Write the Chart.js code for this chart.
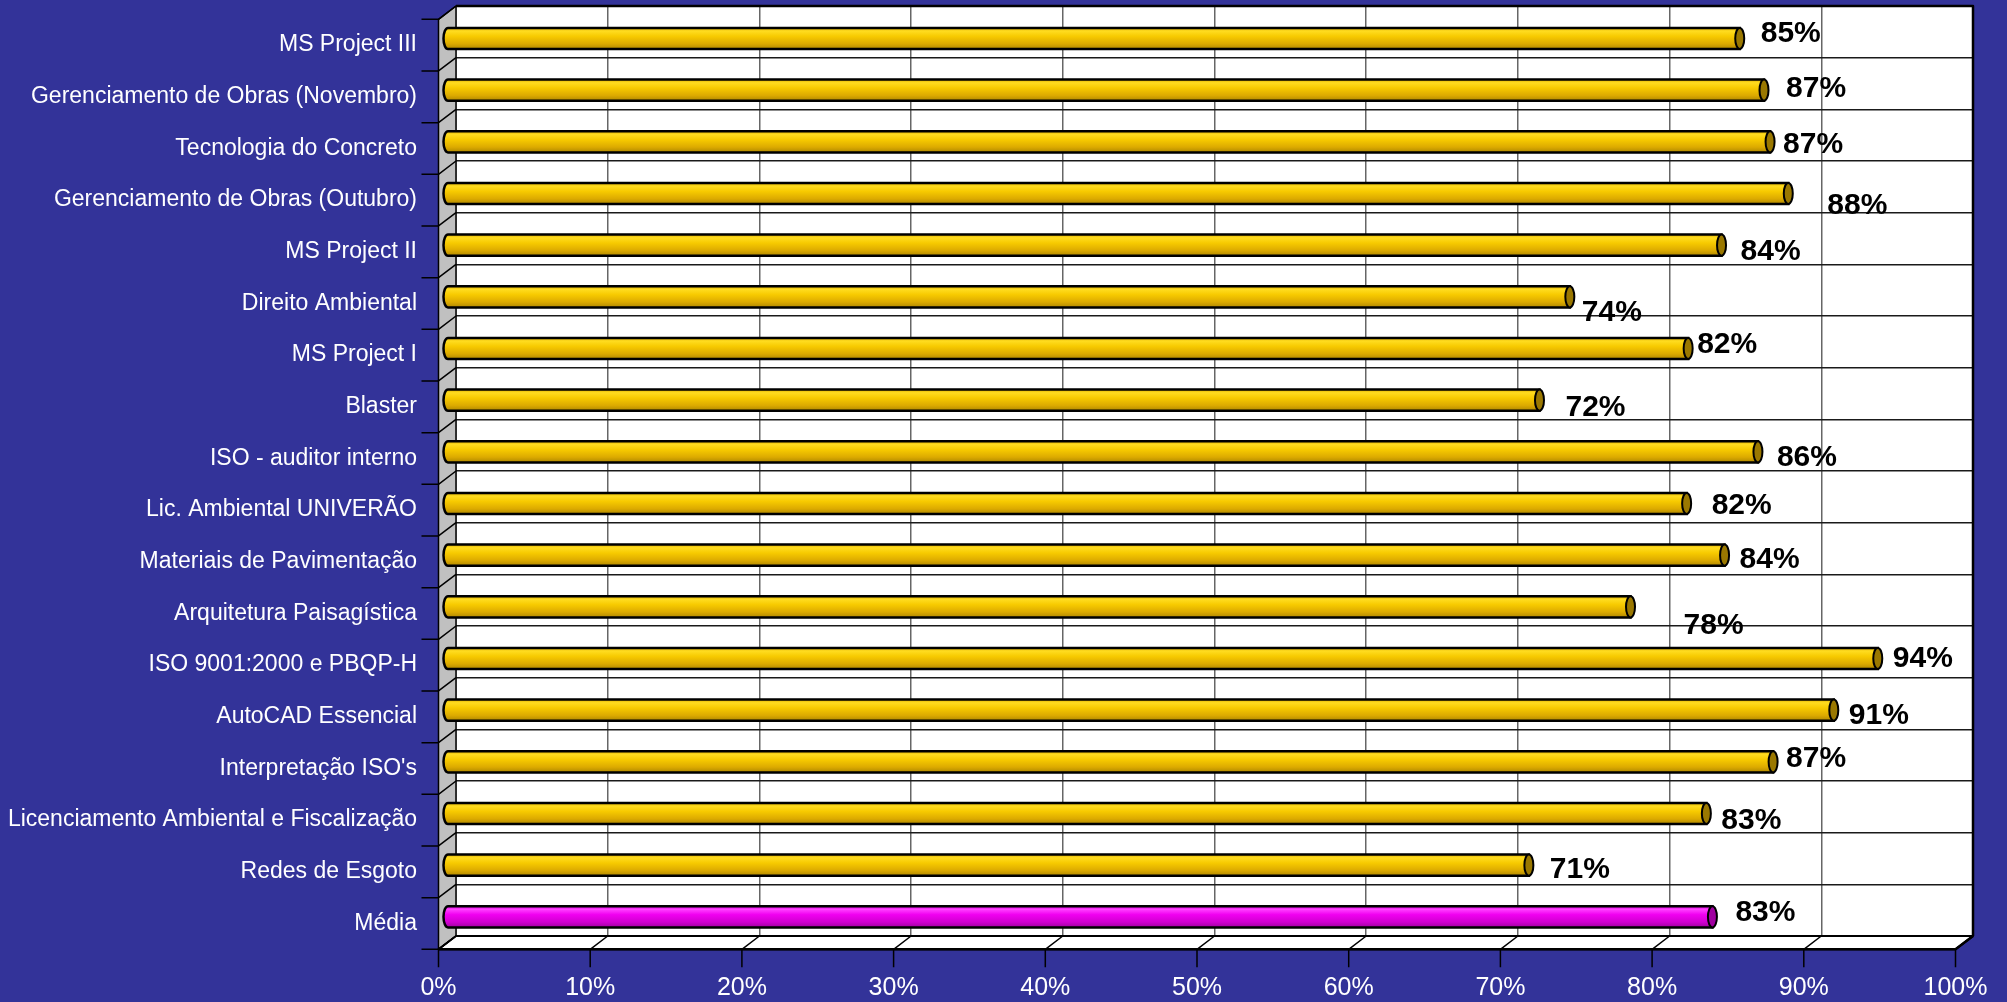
<!DOCTYPE html>
<html>
<head>
<meta charset="utf-8">
<title>Avaliação dos cursos</title>
<script src="https://cdn.jsdelivr.net/npm/chart.js@4/dist/chart.umd.min.js"></script>
<style>
  html, body { margin: 0; padding: 0; background: #333399; }
  #wrap { width: 2007px; height: 1002px; }
</style>
</head>
<body>
<div id="wrap"><canvas id="chart" width="2007" height="1002"></canvas></div>
<script>
/* ============================================================
   DATA
   ============================================================ */
const courses = [
  'MS Project III',
  'Gerenciamento de Obras (Novembro)',
  'Tecnologia do Concreto',
  'Gerenciamento de Obras (Outubro)',
  'MS Project II',
  'Direito Ambiental',
  'MS Project I',
  'Blaster',
  'ISO - auditor interno',
  'Lic. Ambiental UNIVERÃO',
  'Materiais de Pavimentação',
  'Arquitetura Paisagística',
  'ISO 9001:2000 e PBQP-H',
  'AutoCAD Essencial',
  "Interpretação ISO's",
  'Licenciamento Ambiental e Fiscalização',
  'Redes de Esgoto',
  'Média'
];
const scores = [85.2, 86.8, 87.2, 88.4, 84.0, 74.0, 81.8, 72.0, 86.4, 81.7, 84.2, 78.0, 94.3, 91.4, 87.4, 83.0, 71.3, 83.4];
const xTicks = [0, 10, 20, 30, 40, 50, 60, 70, 80, 90, 100];

// label nudges (px) — excel scatters the 3d data labels a bit
const labelNudgeX = [21, 22, 13, 39, 19, 12, 9, 26, 19, 25, 15, 53, 15, 15, 13, 15, 21, 23];
const labelNudgeY = [-4.5, -1, 3, 12.5, 7, 16, -4, 8, 6, 2, 5, 19, 0, 6, -3, 7.5, 5, -4];

/* ============================================================
   STYLE
   ============================================================ */
const FONT = 'Arial, "Liberation Sans", sans-serif';
const DX = 17.5, DY = 13.3;           // 3d depth of the plot box
const BG = '#333399';

const isAvg = i => i === courses.length - 1;

function tubeFill(ctx, y0, h, avg) {
  const g = ctx.createLinearGradient(0, y0, 0, y0 + h);
  if (avg) {
    g.addColorStop(0, '#e000e0');
    g.addColorStop(0.15, '#ff40ff');
    g.addColorStop(0.4, '#f000f0');
    g.addColorStop(0.75, '#d000d0');
    g.addColorStop(1, '#a000a0');
  } else {
    g.addColorStop(0, '#e0b000');
    g.addColorStop(0.15, '#ffdc20');
    g.addColorStop(0.4, '#f7ca00');
    g.addColorStop(0.75, '#dcaa00');
    g.addColorStop(1, '#b08800');
  }
  return g;
}

/* ============================================================
   3D BOX PLUGIN — back wall, side wall, floor, ticks, tubes
   ============================================================ */
const box3d = {
  id: 'box3d',
  beforeDraw(chart) {
    const { ctx, chartArea: a } = chart;
    ctx.save();
    ctx.fillStyle = BG;
    ctx.fillRect(0, 0, chart.width, chart.height);
    ctx.fillStyle = '#ffffff';
    ctx.fillRect(a.left, a.top, a.right - a.left, a.bottom - a.top);
    ctx.restore();
  },
  beforeDatasetsDraw(chart) {
    const { ctx, chartArea: a, scales } = chart;
    const xs = scales.x, ys = scales.y;
    ctx.save();
    ctx.lineJoin = 'round';

    // side wall
    ctx.beginPath();
    ctx.moveTo(a.left, a.top);
    ctx.lineTo(a.left, a.bottom);
    ctx.lineTo(a.left - DX, a.bottom + DY);
    ctx.lineTo(a.left - DX, a.top + DY);
    ctx.closePath();
    ctx.fillStyle = '#c0c0c0';
    ctx.fill();
    ctx.lineWidth = 1.5;
    ctx.strokeStyle = '#000';
    ctx.stroke();

    // floor
    ctx.beginPath();
    ctx.moveTo(a.left, a.bottom);
    ctx.lineTo(a.right, a.bottom);
    ctx.lineTo(a.right - DX, a.bottom + DY);
    ctx.lineTo(a.left - DX, a.bottom + DY);
    ctx.closePath();
    ctx.fillStyle = '#ffffff';
    ctx.fill();
    ctx.lineWidth = 2;
    ctx.stroke();

    // back wall outline (top + right)
    ctx.lineWidth = 2.5;
    ctx.beginPath();
    ctx.moveTo(a.left, a.top);
    ctx.lineTo(a.right, a.top);
    ctx.lineTo(a.right, a.bottom);
    ctx.stroke();
    ctx.beginPath();
    ctx.moveTo(a.right, a.bottom);
    ctx.lineTo(a.right - DX, a.bottom + DY);
    ctx.lineTo(a.left - DX, a.bottom + DY);
    ctx.stroke();

    // category boundaries: diagonal on the side wall + tick out front
    ctx.lineWidth = 1.5;
    const n = courses.length;
    const step = (a.bottom - a.top) / n;
    for (let i = 0; i <= n; i++) {
      const yb = i < n ? ys.getPixelForValue(i) - step / 2 : ys.getPixelForValue(n - 1) + step / 2;
      ctx.beginPath();
      ctx.moveTo(a.left, yb);
      ctx.lineTo(a.left - DX, yb + DY);
      ctx.lineTo(a.left - DX - 17, yb + DY);
      ctx.stroke();
    }

    // value ticks: diagonal on the floor + tick down
    xTicks.forEach(v => {
      const xb = xs.getPixelForValue(v);
      ctx.beginPath();
      ctx.moveTo(xb, a.bottom);
      ctx.lineTo(xb - DX, a.bottom + DY);
      ctx.lineTo(xb - DX, a.bottom + DY + 18);
      ctx.stroke();
    });
    ctx.restore();
  },
  afterDatasetsDraw(chart) {
    const { ctx } = chart;
    const meta = chart.getDatasetMeta(0);
    ctx.save();
    meta.data.forEach((bar, i) => {
      const avg = isAvg(i);
      const h = bar.height;
      const yc = bar.y + DY / 2;
      const y0 = yc - h / 2;
      const x0 = bar.base - DX / 2;
      const x1 = bar.x - DX / 2;
      const rx = 4.5;

      // tube body with a rounded far end
      ctx.beginPath();
      ctx.moveTo(x1, y0);
      ctx.lineTo(x0, y0);
      ctx.ellipse(x0, yc, rx, h / 2, 0, -Math.PI / 2, Math.PI / 2, true);
      ctx.lineTo(x1, y0 + h);
      ctx.closePath();
      ctx.fillStyle = tubeFill(ctx, y0, h, avg);
      ctx.fill();
      ctx.lineWidth = 2.5;
      ctx.strokeStyle = '#000';
      ctx.stroke();

      // end cap
      ctx.beginPath();
      ctx.ellipse(x1, yc, rx, h / 2, 0, 0, Math.PI * 2);
      ctx.fillStyle = avg ? '#a000a0' : '#9a7800';
      ctx.fill();
      ctx.lineWidth = 2;
      ctx.stroke();

      // data label
      ctx.fillStyle = '#000';
      ctx.font = 'bold 30px ' + FONT;
      ctx.textAlign = 'left';
      ctx.textBaseline = 'middle';
      ctx.fillText(Math.round(scores[i]) + '%', x1 + labelNudgeX[i], yc + labelNudgeY[i]);
    });
    ctx.restore();
  }
};

/* ============================================================
   CHART
   ============================================================ */
new Chart(document.getElementById('chart'), {
  type: 'bar',
  data: {
    labels: courses,
    datasets: [{
      data: scores,
      backgroundColor: 'rgba(0,0,0,0)',
      borderWidth: 0,
      categoryPercentage: 1,
      barPercentage: 0.41
    }]
  },
  options: {
    indexAxis: 'y',
    responsive: false,
    animation: false,
    devicePixelRatio: 1,
    layout: { padding: { left: 0, top: 6, right: 34, bottom: 0 } },
    plugins: { legend: { display: false }, tooltip: { enabled: false } },
    scales: {
      x: {
        type: 'linear',
        min: 0, max: 100,
        afterBuildTicks: s => { s.ticks = xTicks.map(v => ({ value: v })); },
        afterFit: s => { s.height = 66; s.paddingLeft = 0; s.paddingRight = 0; },
        ticks: {
          callback: v => v + '%',
          color: '#ffffff',
          font: { family: FONT, size: 25 },
          padding: 37,
          labelOffset: -DX,
          maxRotation: 0
        },
        grid: { color: '#666666', lineWidth: 1.5, drawTicks: false },
        border: { display: false }
      },
      y: {
        afterFit: s => { s.width = 456; s.paddingTop = 0; s.paddingBottom = 0; },
        ticks: {
          color: '#ffffff',
          font: { family: FONT, size: 23 },
          padding: 39,
          labelOffset: DY,
          autoSkip: false
        },
        grid: { color: '#1a1a1a', lineWidth: 1.5, drawTicks: false, offset: true },
        border: { display: false }
      }
    }
  },
  plugins: [box3d]
});
</script>
</body>
</html>
